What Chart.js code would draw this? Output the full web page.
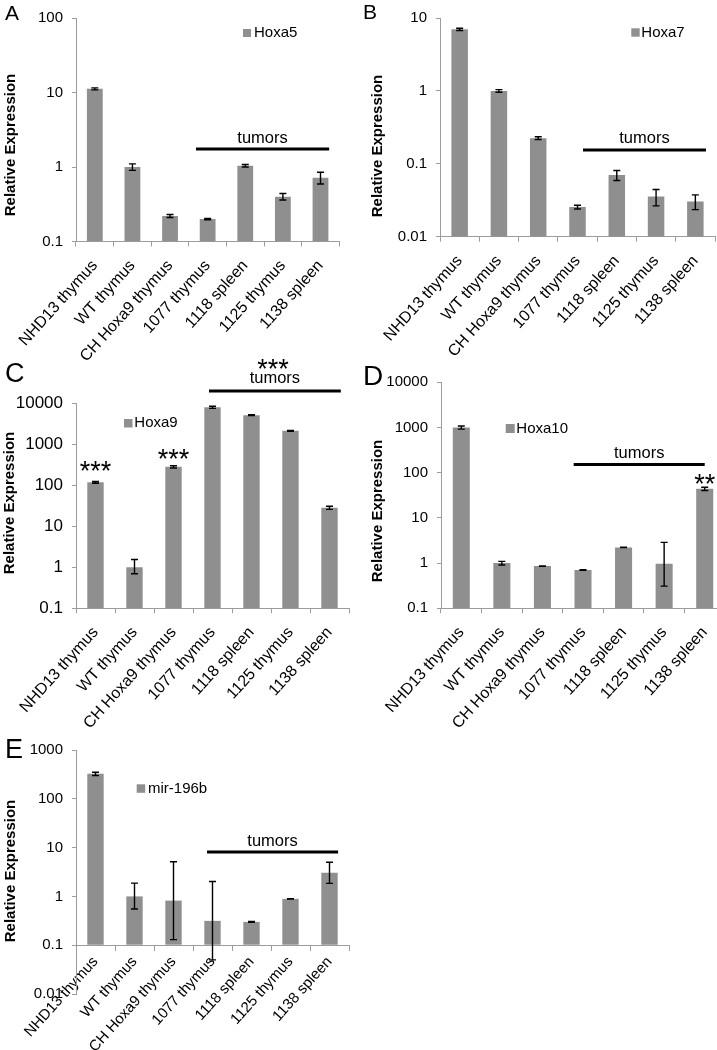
<!DOCTYPE html>
<html lang="en">
<head>
  <meta charset="UTF-8" />
  <title>Hox gene expression</title>
  <script src="https://cdn.jsdelivr.net/npm/chart.js"></script>
  <style>
    * {
      margin: 0;
      padding: 0;
      box-sizing: border-box;
    }

    body {
      width: 717px;
      height: 1050px;
      overflow: hidden;
      position: relative;
      background: #fff;
    }

    canvas {
      position: absolute;
    }
  </style>
</head>
<body>

  <canvas id="chartA"></canvas>
  <canvas id="chartB"></canvas>
  <canvas id="chartC"></canvas>
  <canvas id="chartD"></canvas>
  <canvas id="chartE"></canvas>

  <script>
    // Data
    const categories = ['NHD13 thymus', 'WT thymus', 'CH Hoxa9 thymus', '1077 thymus', '1118 spleen', '1125 thymus', '1138 spleen'];

    const hoxa5 = [11.2, 1.0, 0.22, 0.20, 1.04, 0.40, 0.72];
    const hoxa5Up = [0.35, 0.1, 0.01, 0.004, 0.04, 0.04, 0.13];
    const hoxa5Down = [0.35, 0.1, 0.01, 0.004, 0.04, 0.04, 0.13];

    const hoxa7 = [7.0, 1.0, 0.225, 0.0255, 0.07, 0.0355, 0.0305];
    const hoxa7Up = [0.25, 0.04, 0.01, 0.0015, 0.011, 0.009, 0.007];
    const hoxa7Down = [0.25, 0.04, 0.01, 0.0015, 0.011, 0.009, 0.007];

    const hoxa9 = [119, 1.0, 285, 8100, 5200, 2150, 28.5];
    const hoxa9Up = [6, 0.55, 18, 500, 100, 60, 2.5];
    const hoxa9Down = [6, 0.3, 18, 500, 100, 60, 2.5];

    const hoxa10 = [1000, 1.0, 0.86, 0.70, 2.22, 0.97, 44];
    const hoxa10Up = [80, 0.09, 0.01, 0.01, 0.02, 1.9, 3.5];
    const hoxa10Down = [80, 0.09, 0.01, 0.01, 0.02, 0.66, 3.5];

    const mir196b = [325, 1.0, 0.82, 0.315, 0.30, 0.89, 3.05];
    const mir196bUp = [25, 0.87, 4.3, 1.7, 0.005, 0.01, 1.95];
    const mir196bDown = [25, 0.45, 0.69, 0.265, 0.005, 0.01, 1.2];

    const ticksA = [0.1, 1, 10, 100];
    const ticksB = [0.01, 0.1, 1, 10];
    const ticksC = [0.1, 1, 10, 100, 1000, 10000];
    const ticksD = [0.1, 1, 10, 100, 1000, 10000];
    const ticksE = [0.01, 0.1, 1, 10, 100, 1000];

    const FONT = "'Liberation Sans', Arial, sans-serif";
    const BAR = '#8f8f8f';
    const AXIS = '#9c9c9c';

    // Panel layout in page pixels
    const panels = [
      {
        id: 'chartA', letter: 'A', left: 0, top: 0, w: 358, h: 360,
        plot: { l: 76, r: 339.3, t: 15, b: 241.5 }, tickSize: 15, xPad: 10, xSize: 16,
        label: 'Hoxa5', values: hoxa5, up: hoxa5Up, down: hoxa5Down, ticks: ticksA,
        letterPos: { x: 5, y: 20, size: 21 }, titlePos: { x: 11, y: 145 },
        legend: { x: 243, y: 29, s: 8, tx: 254, ty: 33 },
        tumors: { from: 2.69, to: 6.23, lineY: 149, textY: 142.7 },
        stars: []
      },
      {
        id: 'chartB', letter: 'B', left: 358, top: 0, w: 380, h: 360,
        plot: { l: 440, r: 715, t: 15, b: 236.7 }, tickSize: 15, xPad: 10, xSize: 16,
        label: 'Hoxa7', values: hoxa7, up: hoxa7Up, down: hoxa7Down, ticks: ticksB,
        letterPos: { x: 363, y: 19, size: 21 }, titlePos: { x: 378, y: 146 },
        legend: { x: 631.3, y: 28.3, s: 8.4, tx: 641.3, ty: 32.5 },
        tumors: { from: 3.14, to: 6.27, lineY: 150, textY: 143.3 },
        stars: []
      },
      {
        id: 'chartC', letter: 'C', left: 0, top: 345, w: 358, h: 385,
        plot: { l: 76, r: 349, t: 403.5, b: 608.3 }, tickSize: 17, xPad: 10, xSize: 16,
        label: 'Hoxa9', values: hoxa9, up: hoxa9Up, down: hoxa9Down, ticks: ticksC,
        letterPos: { x: 5, y: 382, size: 27 }, titlePos: { x: 9.5, y: 503 },
        legend: { x: 124, y: 419, s: 8.5, tx: 134.3, ty: 423 },
        tumors: { from: 2.91, to: 6.29, lineY: 391, textY: 383 },
        stars: [{ idx: 0, y: 464.5 }, { idx: 2, y: 452.5 }, { idx: 4.55, y: 362.5 }]
      },
      {
        id: 'chartD', letter: 'D', left: 358, top: 345, w: 380, h: 385,
        plot: { l: 441, r: 725, t: 382.3, b: 608.3 }, tickSize: 15, xPad: 10, xSize: 16,
        label: 'Hoxa10', values: hoxa10, up: hoxa10Up, down: hoxa10Down, ticks: ticksD,
        letterPos: { x: 363, y: 385, size: 28 }, titlePos: { x: 378, y: 511 },
        legend: { x: 505.7, y: 424, s: 9, tx: 516.3, ty: 428.7 },
        tumors: { from: 2.77, to: 6.0, lineY: 464.5, textY: 458.3 },
        stars: [{ idx: 6, y: 478, text: '**' }]
      },
      {
        id: 'chartE', letter: 'E', left: 0, top: 700, w: 358, h: 350,
        plot: { l: 76, r: 349, t: 750, b: 994 }, tickSize: 15, xPad: 3, xSize: 15,
        axisAt: 0.1, base: 0.1,
        label: 'mir-196b', values: mir196b, up: mir196bUp, down: mir196bDown, ticks: ticksE,
        letterPos: { x: 5, y: 758, size: 27 }, titlePos: { x: 11, y: 871 },
        legend: { x: 136.7, y: 784.3, s: 8.5, tx: 148, ty: 789 },
        tumors: { from: 2.86, to: 6.22, lineY: 852, textY: 845.7 },
        stars: []
      }
    ];

    // Error bars, legend, labels and annotations
    function makeAnnotate(p) {
      const X = v => v - p.left;
      const Y = v => v - p.top;
      return {
        id: 'annotate',
        afterDatasetsDraw(chart) {
          const ctx = chart.ctx;
          const y = chart.scales.y;
          const meta = chart.getDatasetMeta(0);
          ctx.save();
          ctx.strokeStyle = '#000';
          ctx.lineWidth = 1.4;
          meta.data.forEach((bar, i) => {
            const v = p.values[i];
            const hi = y.getPixelForValue(v + p.up[i]);
            const lo = v - p.down[i] > 0 ? y.getPixelForValue(v - p.down[i]) : y.bottom;
            const x = bar.x;
            ctx.beginPath();
            ctx.moveTo(x, hi); ctx.lineTo(x, lo);
            ctx.moveTo(x - 3.5, hi); ctx.lineTo(x + 3.5, hi);
            ctx.moveTo(x - 3.5, lo); ctx.lineTo(x + 3.5, lo);
            ctx.stroke();
          });
          ctx.restore();
        },
        afterDraw(chart) {
          const ctx = chart.ctx;
          const xs = chart.scales.x;
          ctx.save();
          ctx.fillStyle = '#000';

          // panel letter
          ctx.font = p.letterPos.size + 'px ' + FONT;
          ctx.textAlign = 'left';
          ctx.textBaseline = 'alphabetic';
          ctx.fillText(p.letter, X(p.letterPos.x), Y(p.letterPos.y));

          // y title
          ctx.save();
          ctx.translate(X(p.titlePos.x), Y(p.titlePos.y));
          ctx.rotate(-Math.PI / 2);
          ctx.font = 'bold 15px ' + FONT;
          ctx.textAlign = 'center';
          ctx.textBaseline = 'middle';
          ctx.fillText('Relative Expression', 0, 0);
          ctx.restore();

          // legend
          const lg = p.legend;
          ctx.fillStyle = BAR;
          ctx.fillRect(X(lg.x), Y(lg.y), lg.s, lg.s);
          ctx.fillStyle = '#000';
          ctx.font = '15px ' + FONT;
          ctx.textAlign = 'left';
          ctx.textBaseline = 'middle';
          ctx.fillText(p.label, X(lg.tx), Y(lg.ty));

          // tumors bracket
          const t = p.tumors;
          const x1 = xs.getPixelForValue(t.from);
          const x2 = xs.getPixelForValue(t.to);
          ctx.strokeStyle = '#000';
          ctx.lineWidth = 3;
          ctx.beginPath();
          ctx.moveTo(x1, Y(t.lineY));
          ctx.lineTo(x2, Y(t.lineY));
          ctx.stroke();
          ctx.font = '16.5px ' + FONT;
          ctx.textAlign = 'center';
          ctx.textBaseline = 'alphabetic';
          ctx.fillText('tumors', (x1 + x2) / 2, Y(t.textY));

          // significance stars
          ctx.font = '27px ' + FONT;
          p.stars.forEach(s => {
            ctx.fillText(s.text || '***', xs.getPixelForValue(s.idx), Y(s.y) + 0.57 * 27);
          });

          ctx.restore();
        }
      };
    }

    panels.forEach(p => {
      const canvas = document.getElementById(p.id);
      canvas.width = p.w;
      canvas.height = p.h;
      canvas.style.left = p.left + 'px';
      canvas.style.top = p.top + 'px';
      canvas.style.width = p.w + 'px';
      canvas.style.height = p.h + 'px';

      const xScale = {
        position: p.axisAt ? { y: p.axisAt } : 'bottom',
        offset: true,
        grid: { offset: true, drawOnChartArea: false, tickLength: 5, color: AXIS },
        border: { color: AXIS },
        ticks: {
          color: '#000', font: { family: FONT, size: p.xSize },
          minRotation: 48, maxRotation: 48, autoSkip: false, padding: p.xPad
        }
      };
      if (!p.axisAt) {
        xScale.afterFit = s => { s.height = p.top + p.h - p.plot.b; };
      }

      new Chart(canvas.getContext('2d'), {
        type: 'bar',
        data: {
          labels: categories,
          datasets: [{
            label: p.label,
            data: p.values,
            backgroundColor: BAR,
            base: p.base,
            barPercentage: 0.42,
            categoryPercentage: 1
          }]
        },
        options: {
          responsive: false,
          animation: false,
          devicePixelRatio: 1,
          layout: {
            padding: {
              left: 0,
              top: p.plot.t - p.top,
              right: p.left + p.w - p.plot.r,
              bottom: p.axisAt ? p.top + p.h - p.plot.b : 0
            }
          },
          plugins: {
            legend: { display: false },
            tooltip: { enabled: false }
          },
          scales: {
            x: xScale,
            y: {
              type: 'logarithmic',
              min: p.ticks[0],
              max: p.ticks[p.ticks.length - 1],
              afterBuildTicks: s => { s.ticks = p.ticks.map(v => ({ value: v })); },
              afterFit: s => { s.width = p.plot.l - p.left; },
              grid: { drawOnChartArea: false, tickLength: 4, color: AXIS },
              border: { color: AXIS },
              ticks: {
                color: '#000', font: { family: FONT, size: p.tickSize }, padding: 9,
                callback: v => String(v)
              }
            }
          }
        },
        plugins: [makeAnnotate(p)]
      });
    });
  </script>

</body>
</html>
